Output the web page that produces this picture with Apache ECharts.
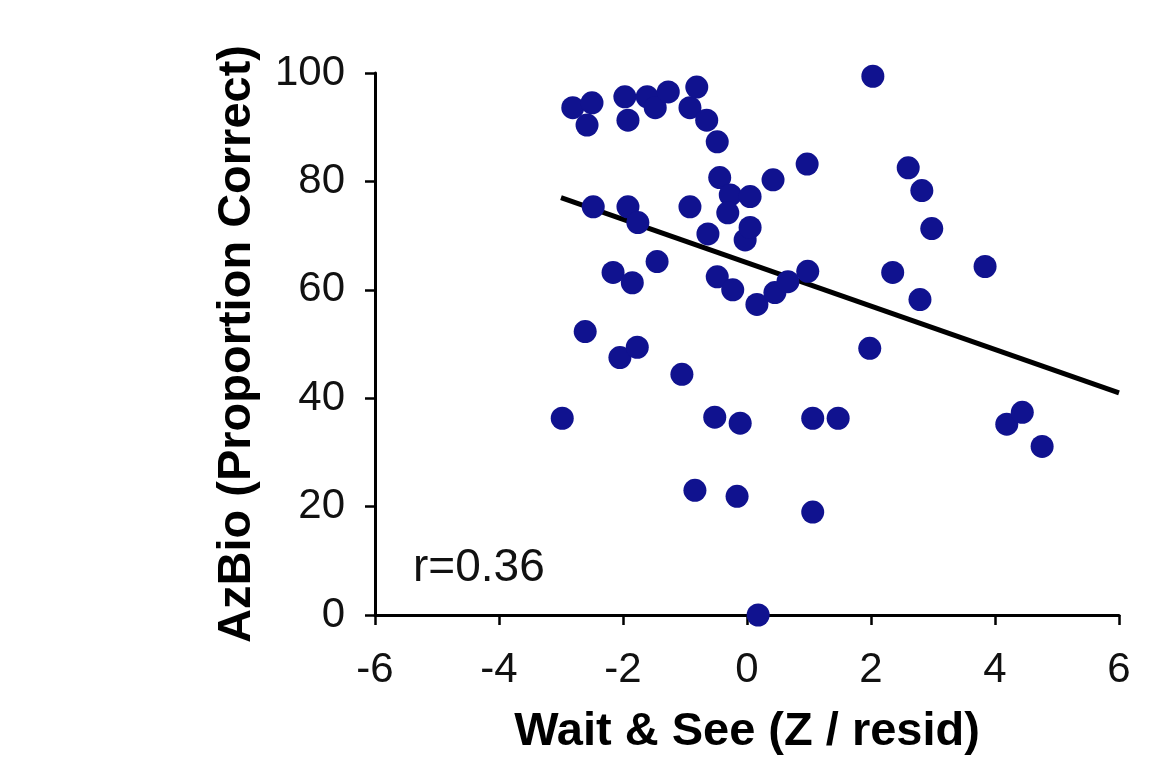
<!DOCTYPE html>
<html>
<head>
<meta charset="utf-8">
<title>AzBio vs Wait & See</title>
<script src="https://cdn.jsdelivr.net/npm/echarts@6/dist/echarts.min.js"></script>
<style>
	html, body { margin: 0; padding: 0; background: #fff; }
	#main { width: 1170px; height: 784px; }
</style>
</head>
<body>
<div id="main"></div>
<script>
// 散点数据 (Z / resid, proportion correct)
var waitSee = [-2.98, -2.81, -2.50, -2.58, -2.48, -2.61, -2.16, -2.05, -1.85, -1.77,
	-1.97, -1.92, -1.92, -1.76, -1.61, -1.48, -1.27, -1.45, -1.05, -0.92,
	-0.92, -0.81, -0.84, -0.65, -0.63, -0.48, -0.48, -0.52, -0.44, -0.27,
	-0.31, -0.23, -0.16, -0.11, -0.03, 0.05, 0.05, 0.16, 0.18, 0.42,
	0.45, 0.66, 0.97, 0.98, 1.06, 1.06, 1.47, 1.98, 2.03, 2.35,
	2.60, 2.79, 2.82, 2.98, 3.84, 4.19, 4.44, 4.76];
var azBio = [36.3, 93.6, 94.5, 90.4, 75.3, 52.3, 63.2, 47.5, 61.3, 49.4,
	95.6, 91.3, 75.3, 72.4, 95.6, 93.6, 96.5, 65.2, 44.4, 75.3,
	93.6, 97.4, 23.0, 91.3, 70.3, 87.3, 62.4, 36.5, 80.7, 77.5,
	74.2, 60.0, 21.9, 35.4, 69.2, 71.5, 77.2, 57.3, 0, 80.3,
	59.5, 61.5, 83.2, 63.4, 36.3, 19.0, 36.3, 49.2, 99.4, 63.2,
	82.5, 58.2, 78.3, 71.3, 64.3, 35.2, 37.4, 31.1];
// 回归线
var fitX = [-3, 6];
var fitY = [77, 41];
var rLabel = 'r=0.36';

function scatter() {
	var chart = echarts.init(document.getElementById('main'));
	var pts = [];
	for (var i = 0; i < waitSee.length; i++) {
		pts.push([waitSee[i], azBio[i]]);
	}
	var line = [];
	for (var j = 0; j < fitX.length; j++) {
		line.push([fitX[j], fitY[j]]);
	}
	var font = 'Liberation Sans, Arial, sans-serif';
	var option = {
		animation: false,
		backgroundColor: '#fff',
		grid: {
			left: 375,
			right: 51,
			top: 73,
			bottom: 169
		},
		xAxis: {
			type: 'value',
			min: -6,
			max: 6,
			interval: 2,
			name: 'Wait & See (Z / resid)',
			nameLocation: 'middle',
			nameGap: 94,
			nameTextStyle: { color: '#000', fontSize: 47, fontWeight: 'bold', fontFamily: font },
			axisLine: { onZero: false, lineStyle: { color: '#000', width: 3 } },
			axisTick: { show: true, length: 10, lineStyle: { color: '#000', width: 2.5 } },
			axisLabel: { color: '#111', fontSize: 42, fontFamily: font, margin: 34 },
			splitLine: { show: false }
		},
		yAxis: {
			type: 'value',
			min: 0,
			max: 100,
			interval: 20,
			name: 'AzBio (Proportion Correct)',
			nameLocation: 'middle',
			nameRotate: 90,
			nameGap: 114,
			nameTextStyle: { color: '#000', fontSize: 47, fontWeight: 'bold', fontFamily: font },
			axisLine: { show: true, onZero: false, lineStyle: { color: '#000', width: 3 } },
			axisTick: { show: true, length: 10, lineStyle: { color: '#000', width: 2.5 } },
			axisLabel: { color: '#111', fontSize: 42, fontFamily: font, margin: 30 },
			splitLine: { show: false }
		},
		series: [{
			type: 'scatter',
			data: pts,
			symbolSize: 23,
			itemStyle: { color: '#10128f', opacity: 1 },
			z: 3
		}, {
			type: 'line',
			data: line,
			symbol: 'none',
			lineStyle: { color: '#000', width: 5 },
			z: 2
		}],
		graphic: [{
			type: 'text',
			left: 413,
			top: 545,
			style: {
				text: rLabel,
				fill: '#111',
				fontSize: 46,
				fontFamily: font
			}
		}]
	};
	chart.setOption(option);
}
scatter();
</script>
</body>
</html>
